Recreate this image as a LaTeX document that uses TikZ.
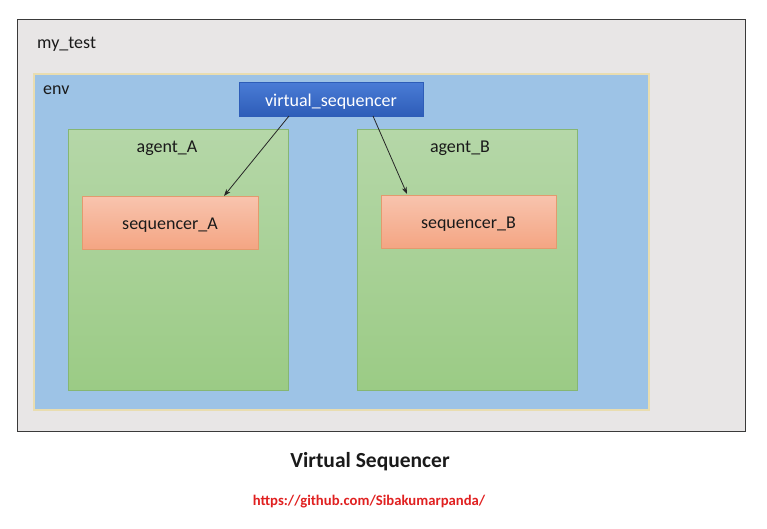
\documentclass[tikz,border=0pt]{standalone}
\usepackage{fontspec}
\setmainfont{Carlito}
\usetikzlibrary{arrows.meta}
\definecolor{outerfill}{HTML}{E8E6E6}
\definecolor{outerdraw}{HTML}{3A3A3A}
\definecolor{envfill}{HTML}{9DC3E6}
\definecolor{envdraw}{HTML}{E9DDB0}
\definecolor{vstop}{HTML}{4A7CD6}
\definecolor{vsbot}{HTML}{2E5DB8}
\definecolor{agtop}{HTML}{B5D7A8}
\definecolor{agbot}{HTML}{9BCB85}
\definecolor{agdraw}{HTML}{86B673}
\definecolor{sqtop}{HTML}{F8C4AE}
\definecolor{sqbot}{HTML}{F4A583}
\definecolor{sqdraw}{HTML}{E39A6E}
\definecolor{urlred}{HTML}{E02020}
\definecolor{txt}{HTML}{1A1A1A}
\tikzset{
  box/.style={anchor=north west, inner sep=0pt, outer sep=0pt},
  outerbox/.style={box, fill=outerfill, draw=outerdraw, line width=1pt},
  envbox/.style={box, fill=envfill, draw=envdraw, line width=1.5pt},
  agentbox/.style={box, top color=agtop, bottom color=agbot, draw=agdraw, line width=0.8pt},
  seqbox/.style={box, top color=sqtop, bottom color=sqbot, draw=sqdraw, line width=0.8pt},
  vsbox/.style={box, top color=vstop, bottom color=vsbot, draw=vsbot, line width=0.6pt},
  lbl/.style={inner sep=0pt, text=txt, yshift=-2.5pt, font=\fontsize{18}{21}\selectfont},
  conn/.style={draw=black!85, line width=0.8pt, -{Stealth[length=7pt,width=5pt]}}
}
\begin{document}
\begin{tikzpicture}[x=1pt,y=-1pt]
\useasboundingbox (0,0) rectangle (767,528);
\node[outerbox, minimum width=728pt, minimum height=412pt] (mytest) at (17,19) {};
\node[lbl, anchor=west] (mytestlbl) at (37,42) {my\_test};
\node[envbox, minimum width=615pt, minimum height=336pt] (env) at (34,74) {};
\node[lbl, anchor=west] (envlbl) at (43,88) {env};
\node[agentbox, minimum width=220pt, minimum height=261pt] (agA) at (68,129) {};
\node[agentbox, minimum width=220pt, minimum height=261pt] (agB) at (357,129) {};
\node[lbl] (agAlbl) at (167,146) {agent\_A};
\node[lbl] (agBlbl) at (460,146) {agent\_B};
\node[seqbox, minimum width=176pt, minimum height=53pt] (seqA) at (82,196) {};
\node[seqbox, minimum width=175pt, minimum height=53pt] (seqB) at (381,195) {};
\node[lbl] (seqAlbl) at (seqA.center) {sequencer\_A};
\node[lbl] (seqBlbl) at (seqB.center) {sequencer\_B};
\node[vsbox, minimum width=184pt, minimum height=34pt] (vs) at (239,82) {};
\node[lbl, text=white] (vslbl) at (vs.center) {virtual\_sequencer};
\coordinate (a1) at (289,116);
\coordinate (a2) at (224,196);
\coordinate (b1) at (373,116);
\coordinate (b2) at (407,194);
\draw[conn] (a1) -- (a2);
\draw[conn] (b1) -- (b2);
\node[inner sep=0pt, font=\bfseries\fontsize{21.5}{25}\selectfont, text=txt] (title) at (370,462) {Virtual Sequencer};
\node[inner sep=0pt, font=\bfseries\fontsize{14.7}{17}\selectfont, text=urlred] (url) at (369,502) {https://github.com/Sibakumarpanda/};
\end{tikzpicture}
\end{document}
